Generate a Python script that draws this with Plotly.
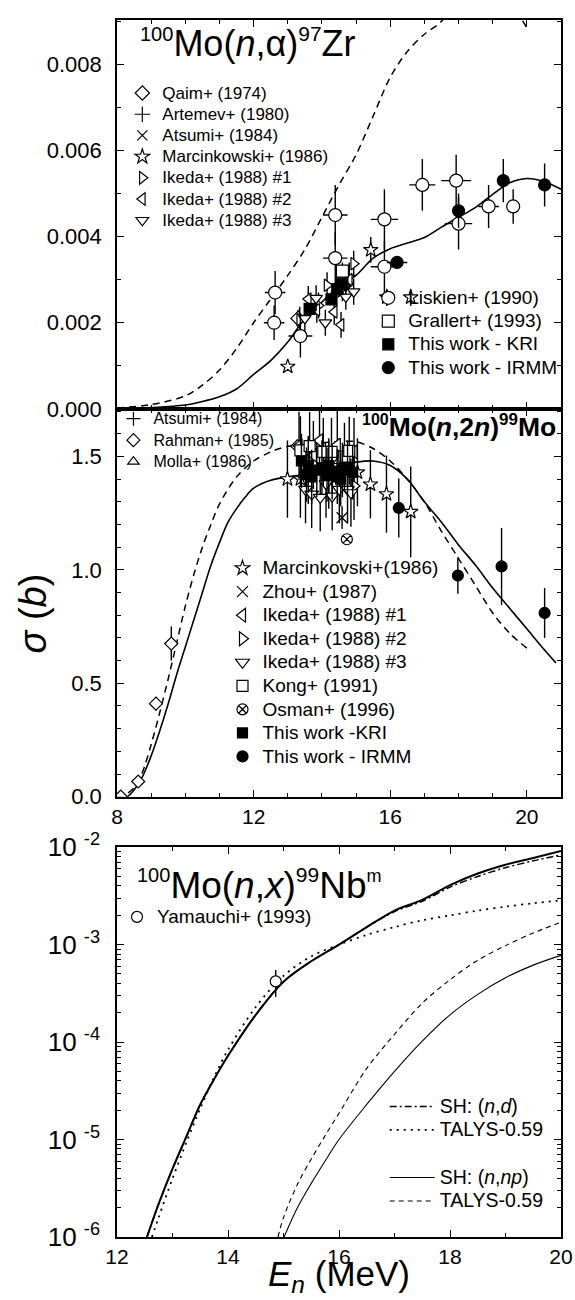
import plotly.graph_objects as go

FONT = "Liberation Sans, Arial, sans-serif"

# ---------------- Panel 1: 100Mo(n,alpha)97Zr ----------------
na_E_solid = [8.0, 9.0, 10.0, 10.5, 11.0, 11.5, 12.0, 12.5, 13.0, 13.5, 14.0, 14.5, 15.0, 15.5, 16.0,
              16.5, 17.0, 17.5, 18.0, 18.5, 19.0, 19.5, 20.0, 20.5, 21.0]
na_solid = [0.0, 0.00003, 0.00009, 0.00017, 0.00028, 0.00046, 0.0008, 0.00112, 0.00155, 0.0021, 0.00248,
            0.00285, 0.0031, 0.0035, 0.00372, 0.00385, 0.00398, 0.00422, 0.00445, 0.00468, 0.00498,
            0.00525, 0.00535, 0.00528, 0.0051]
na_E_dash = [8.0, 9.0, 10.0, 10.5, 11.0, 11.5, 12.0, 12.5, 13.0, 13.5, 14.0, 14.5, 15.0, 15.5, 16.0,
             16.5, 17.0, 17.5, 18.0, 19.0, 19.5, 19.8, 20.0]
na_dash = [0.00002, 0.0001, 0.0003, 0.00055, 0.0009, 0.0014, 0.002, 0.00255, 0.0031, 0.0037, 0.00445,
           0.0052, 0.0059, 0.0068, 0.0077, 0.0083, 0.0087, 0.0090, 0.0096, 0.0096, 0.0094, 0.0091, 0.00885]

qaim_E, qaim_s, qaim_e = [13.3, 14.7], [0.0021, 0.0029], [0.0002, 0.0002]
artemev_E, artemev_s, artemev_e = [14.8], [0.0031], [0.0003]
atsumi_E, atsumi_s, atsumi_e = [14.6], [0.0027], [0.0002]
marc_E, marc_s, marc_e = [13.0, 15.43, 15.9, 16.6], [0.00098, 0.00369, 0.00259, 0.00259], [0.0001, 0.0003, 0.0002, 0.0002]
ik1_E, ik1_s, ik1_e = [13.35, 14.15, 14.93, 13.9, 14.5], [0.00207, 0.00287, 0.00337, 0.0024, 0.0029], [0.0003] * 5
ik2_E, ik2_s, ik2_e = [13.6, 14.36, 14.56, 13.85, 14.8], [0.00255, 0.00225, 0.00195, 0.0023, 0.0030], [0.0003] * 5
ik3_E, ik3_s, ik3_e = [14.1, 14.93, 13.83, 14.7, 13.5], [0.0020, 0.00272, 0.00257, 0.0026, 0.0021], [0.0003] * 5
lisk_E = [12.6, 12.63, 13.37, 14.39, 14.39, 15.83, 15.83, 16.94, 17.93, 18.0, 18.88, 19.6]
lisk_s = [0.0020, 0.0027, 0.00169, 0.0035, 0.0045, 0.0033, 0.0044, 0.0052, 0.0053, 0.0043, 0.0047, 0.0047]
lisk_e = [0.0004, 0.0005, 0.0005, 0.0006, 0.0007, 0.0006, 0.0007, 0.0006, 0.0006, 0.0006, 0.0005, 0.0004]
lisk_xe = [0.3, 0.3, 0.35, 0.36, 0.36, 0.4, 0.4, 0.38, 0.44, 0.4, 0.3, 0.2]
grall_E, grall_s, grall_e = [14.6], [0.0032], [0.0002]
kri1_E, kri1_s, kri1_e = [13.64, 14.28, 14.45, 14.6], [0.00232, 0.00254, 0.00278, 0.0029], [0.0001] * 4
irmm1_E, irmm1_s, irmm1_e = [16.2, 18.0, 19.31, 20.52], [0.0034, 0.0046, 0.0053, 0.0052], [0.0001, 0.0004, 0.0005, 0.0005]
irmm1_xe = [0.3, 0.0, 0.0, 0.0]

# ---------------- Panel 2: 100Mo(n,2n)99Mo ----------------
n2_E_solid = [8.0, 8.3, 8.5, 8.75, 9.0, 9.25, 9.5, 9.75, 10.0, 10.25, 10.5, 10.75, 11.0, 11.25, 11.5, 11.75,
              12.0, 12.5, 13.0, 13.5, 14.0, 14.5, 15.0, 15.5, 16.0, 16.5, 17.0, 17.5, 18.0, 18.5, 19.0,
              19.5, 20.0, 20.5, 20.85]
n2_solid = [0.0, 0.0, 0.03, 0.09, 0.18, 0.29, 0.41, 0.54, 0.66, 0.78, 0.9, 1.02, 1.12, 1.21, 1.27, 1.32,
            1.36, 1.395, 1.41, 1.42, 1.44, 1.46, 1.475, 1.48, 1.46, 1.40, 1.30, 1.21, 1.11, 1.02, 0.92,
            0.83, 0.74, 0.65, 0.59]
n2_E_dash = [8.0, 8.25, 8.5, 8.75, 9.0, 9.25, 9.5, 9.75, 10.0, 10.25, 10.5, 10.75, 11.0, 11.5, 12.0, 12.5,
             13.0, 14.0, 14.5, 15.0, 15.5, 16.0, 16.5, 17.0, 17.5, 18.0, 18.5, 19.0, 19.5, 20.0]
n2_dash = [0.0, 0.01, 0.04, 0.11, 0.23, 0.37, 0.52, 0.68, 0.84, 0.98, 1.1, 1.2, 1.29, 1.41, 1.48, 1.52,
           1.545, 1.56, 1.565, 1.565, 1.535, 1.48, 1.40, 1.30, 1.17, 1.05, 0.93, 0.81, 0.72, 0.655]

at2_E, at2_s, at2_e = [14.1], [1.46], [0.1]
rah_E, rah_s, rah_e = [8.11, 8.62, 9.14, 9.59, 13.28], [0.0, 0.067, 0.41, 0.675, 1.545], [0.01, 0.01, 0.03, 0.075, 0.03]
rah_xe = [0.0, 0.0, 0.0, 0.2, 0.0]
molla_E, molla_s, molla_e = [14.5], [1.48], [0.1]
marc2_E = [12.99, 13.37, 15.04, 15.42, 15.89, 16.6]
marc2_s = [1.40, 1.40, 1.43, 1.377, 1.334, 1.256]
marc2_e = [0.17, 0.17, 0.15, 0.15, 0.17, 0.2]
zhou_E, zhou_s, zhou_e = [14.59], [1.23], [0.05]
ik1b_E, ik1b_s = [13.33, 13.93, 14.45, 13.75, 14.94], [1.547, 1.57, 1.55, 1.506, 1.52]
ik2b_E, ik2b_s = [14.94, 14.2, 13.6], [1.37, 1.42, 1.44]
ik3b_E = [13.52, 13.7, 13.95, 14.12, 14.3, 14.51, 14.75, 14.85]
ik3b_s = [1.355, 1.334, 1.32, 1.38, 1.325, 1.355, 1.355, 1.34]
kong_E = [13.37, 13.64, 14.04, 14.28, 14.66, 14.8]
kong_s = [1.527, 1.546, 1.52, 1.52, 1.499, 1.525]
osman_E, osman_s, osman_e = [14.73], [1.135], [0.02]
kri2_E = [13.4, 13.55, 13.7, 13.85, 14.0, 14.15, 14.3, 14.45, 14.6, 14.75, 14.9, 13.6, 14.2, 14.55]
kri2_s = [1.48, 1.42, 1.41, 1.44, 1.45, 1.42, 1.43, 1.41, 1.44, 1.45, 1.43, 1.46, 1.46, 1.40]
irmm2_E, irmm2_s, irmm2_e = [16.25, 17.98, 19.26, 20.52], [1.273, 0.975, 1.015, 0.81], [0.13, 0.08, 0.17, 0.11]

# ---------------- Panel 3: 100Mo(n,x)99Nbm ----------------
nd_E = [12.54, 12.75, 13.0, 13.25, 13.5, 13.75, 14.0, 14.5, 15.0, 15.5, 16.0, 16.5, 17.0, 17.5, 18.0,
        18.5, 19.0, 19.5, 20.0]
tot_log = [-6.0, -5.66, -5.3, -4.97, -4.64, -4.38, -4.14, -3.72, -3.38, -3.17, -3.0, -2.82, -2.65, -2.54,
           -2.39, -2.27, -2.18, -2.11, -2.04]
shnd_log = [-6.0, -5.66, -5.3, -4.97, -4.64, -4.38, -4.14, -3.72, -3.38, -3.17, -3.0, -2.82, -2.66, -2.555,
            -2.41, -2.30, -2.21, -2.14, -2.08]
tnd_E = [12.63, 12.75, 13.0, 13.25, 13.5, 13.75, 14.0, 14.5, 15.0, 15.5, 16.0, 16.5, 17.0, 17.5, 18.0,
         18.5, 19.0, 19.5, 20.0]
tnd_log = [-6.0, -5.8, -5.4, -5.03, -4.68, -4.36, -4.08, -3.64, -3.32, -3.12, -3.0, -2.9, -2.82, -2.75,
           -2.70, -2.65, -2.61, -2.575, -2.545]
shnp_E = [15.01, 15.25, 15.5, 15.75, 16.0, 16.5, 17.0, 17.5, 18.0, 18.5, 19.0, 19.5, 20.0]
shnp_log = [-6.0, -5.7, -5.45, -5.22, -5.0, -4.64, -4.3, -3.99, -3.72, -3.51, -3.34, -3.21, -3.11]
tnp_E = [14.9, 15.0, 15.25, 15.5, 15.75, 16.0, 16.5, 17.0, 17.5, 18.0, 18.5, 19.0, 19.5, 20.0]
tnp_log = [-6.0, -5.8, -5.46, -5.2, -4.96, -4.73, -4.27, -3.92, -3.6, -3.36, -3.16, -3.01, -2.88, -2.77]
yam_E, yam_s, yam_e = [14.86], [4.2e-4], [1.3e-4]

# tick labels
y1_ticks = [0.0, 0.002, 0.004, 0.006, 0.008]
y2_ticks = [0.0, 0.5, 1.0, 1.5]
y3_tickvals = [1e-6, 1e-5, 1e-4, 1e-3, 1e-2]
y3_ticktext = ["10 <sup>-6</sup>", "10 <sup>-5</sup>", "10 <sup>-4</sup>", "10 <sup>-3</sup>", "10 <sup>-2</sup>"]

fig = go.Figure()
BLK = "black"


def lab(text, size):
    return '<span style="font-size:%spx">%s</span>' % (size, text)


def sup(text, size):
    return '<sup><span style="font-size:%spx">%s</span></sup>' % (size, text)


def pts(E, s, e, sym, size, ax, name, legend, fill="white", xe=None, lw=1.2):
    err = dict(type="data", array=e, visible=True, color=BLK, thickness=1.4, width=0)
    kw = {}
    if xe is not None:
        kw["error_x"] = dict(type="data", array=xe, visible=True, color=BLK, thickness=1.4, width=0)
    fig.add_trace(go.Scatter(x=E, y=s, mode="markers", name=name, legend=legend,
                             xaxis="x" + ax, yaxis="y" + ax, error_y=err,
                             marker=dict(symbol=sym, size=size, color=fill,
                                         line=dict(color=BLK, width=lw)), **kw))


def line(E, s, ax, dash, width, name=None, legend=None, group=None):
    fig.add_trace(go.Scatter(x=E, y=s, mode="lines", xaxis="x" + ax, yaxis="y" + ax,
                             line=dict(color=BLK, width=width, dash=dash, shape="spline", smoothing=0.9),
                             name=name, showlegend=name is not None,
                             legend=legend, legendgroup=group))


L1, L2, L3, L4, L5, L6 = 17, 19, 16, 19, 19, 19.5

# panel 1 (axis suffix "")
line(na_E_solid, na_solid, "", "solid", 1.6)
line(na_E_dash, na_dash, "", "7px,5px", 1.5)
pts(qaim_E, qaim_s, qaim_e, "diamond", 11, "", lab("Qaim+ (1974)", L1), "legend")
pts(artemev_E, artemev_s, artemev_e, "cross-thin", 11, "", lab("Artemev+ (1980)", L1), "legend", fill=BLK)
pts(atsumi_E, atsumi_s, atsumi_e, "x-thin", 10, "", lab("Atsumi+ (1984)", L1), "legend", fill=BLK)
pts(marc_E, marc_s, marc_e, "star", 11, "", lab("Marcinkowski+ (1986)", L1), "legend")
pts(ik1_E, ik1_s, ik1_e, "triangle-right", 11, "", lab("Ikeda+ (1988) #1", L1), "legend")
pts(ik2_E, ik2_s, ik2_e, "triangle-left", 11, "", lab("Ikeda+ (1988) #2", L1), "legend")
pts(ik3_E, ik3_s, ik3_e, "triangle-down", 11, "", lab("Ikeda+ (1988) #3", L1), "legend")
pts(lisk_E, lisk_s, lisk_e, "circle", 13, "", lab("Liskien+ (1990)", L2), "legend2", xe=lisk_xe)
pts(grall_E, grall_s, grall_e, "square", 12, "", lab("Grallert+ (1993)", L2), "legend2")
pts(kri1_E, kri1_s, kri1_e, "square", 11, "", lab("This work - KRI", L2), "legend2", fill=BLK)
pts(irmm1_E, irmm1_s, irmm1_e, "circle", 12, "", lab("This work - IRMM", L2), "legend2", fill=BLK, xe=irmm1_xe)

# panel 2
line(n2_E_solid, n2_solid, "2", "solid", 1.6)
line(n2_E_dash, n2_dash, "2", "7px,5px", 1.5)
pts(at2_E, at2_s, at2_e, "cross-thin", 10, "2", lab("Atsumi+ (1984)", L3), "legend3", fill=BLK)
pts(rah_E, rah_s, rah_e, "diamond", 10, "2", lab("Rahman+ (1985)", L3), "legend3", xe=rah_xe)
pts(molla_E, molla_s, molla_e, "triangle-up", 10, "2", lab("Molla+ (1986)", L3), "legend3")
pts(marc2_E, marc2_s, marc2_e, "star", 11, "2", lab("Marcinkovski+(1986)", L4), "legend4")
pts(zhou_E, zhou_s, zhou_e, "x-thin", 11, "2", lab("Zhou+ (1987)", L4), "legend4", fill=BLK)
pts(ik1b_E, ik1b_s, [0.15] * len(ik1b_E), "triangle-left", 12, "2", lab("Ikeda+ (1988) #1", L4), "legend4")
pts(ik2b_E, ik2b_s, [0.15] * len(ik2b_E), "triangle-right", 12, "2", lab("Ikeda+ (1988) #2", L4), "legend4")
pts(ik3b_E, ik3b_s, [0.15] * len(ik3b_E), "triangle-down", 12, "2", lab("Ikeda+ (1988) #3", L4), "legend4")
pts(kong_E, kong_s, [0.15] * len(kong_E), "square", 11, "2", lab("Kong+ (1991)", L4), "legend4")
pts(osman_E, osman_s, osman_e, "circle-x", 11, "2", lab("Osman+ (1996)", L4), "legend4")
pts(kri2_E, kri2_s, [0.12] * len(kri2_E), "square", 10, "2", lab("This work -KRI", L4), "legend4", fill=BLK)
pts(irmm2_E, irmm2_s, irmm2_e, "circle", 11, "2", lab("This work - IRMM", L4), "legend4", fill=BLK)

# panel 3
line(nd_E, [10 ** v for v in tot_log], "3", "solid", 2.0)
line(nd_E, [10 ** v for v in shnd_log], "3", "7px,3px,2px,3px", 1.5, lab("SH: (<i>n</i>,<i>d</i>)", L6), "legend6", "a")
line(tnd_E, [10 ** v for v in tnd_log], "3", "2px,5px", 1.8, lab("TALYS-0.59", L6), "legend6", "a")
line(shnp_E, [10 ** v for v in shnp_log], "3", "solid", 1.1, lab("SH: (<i>n</i>,<i>np</i>)", L6), "legend6", "b")
line(tnp_E, [10 ** v for v in tnp_log], "3", "5px,4px", 1.1, lab("TALYS-0.59", L6), "legend6", "b")
pts(yam_E, yam_s, yam_e, "circle", 11, "3", lab("Yamauchi+ (1993)", L5), "legend5")


def axstyle(**kw):
    d = dict(showline=True, linecolor=BLK, linewidth=1.6, mirror="allticks", ticks="inside",
             ticklen=7, tickwidth=1.3, tickcolor=BLK, showgrid=False, zeroline=False,
             ticklabeloverflow="allow",
             tickfont=dict(family=FONT, size=22, color=BLK))
    d.update(kw)
    return d


MINX = dict(ticks="inside", ticklen=4, tickwidth=1.1, tickcolor=BLK, dtick=1)
d1 = [0.6805, 1.0]
d2 = [0.3618, 0.6805]
d3 = [0.0, 0.3203]

minor_log = [k * 10 ** p for p in range(-6, -2) for k in range(2, 10)]


def lg(x, y, size, **kw):
    d = dict(x=x, y=y, xanchor="left", yanchor="top", bgcolor="rgba(0,0,0,0)",
             font=dict(family=FONT, size=size, color=BLK))
    d.update(kw)
    return d


fig.update_layout(
    width=575, height=1300,
    margin=dict(l=117, r=2, t=7, b=63),
    paper_bgcolor="white", plot_bgcolor="white",
    font=dict(family=FONT, color=BLK),
    xaxis=axstyle(domain=[0, 1], anchor="y", range=[8, 21], dtick=4, tick0=8, showticklabels=False,
                  minor=MINX),
    yaxis=axstyle(domain=d1, anchor="x", range=[0, 0.00903], tickvals=y1_ticks, tickformat=".3f",
                  ticklabelstandoff=9,
                  minor=dict(ticks="inside", ticklen=4, tickwidth=1.1, tickcolor=BLK, dtick=0.001)),
    xaxis2=axstyle(domain=[0, 1], anchor="y2", range=[8, 21], dtick=4, tick0=8, minor=MINX,
                   tickfont=dict(family=FONT, size=21, color=BLK)),
    yaxis2=axstyle(domain=d2, anchor="x2", range=[0, 1.71], tickvals=y2_ticks, tickformat=".1f",
                   ticklabelstandoff=9,
                   minor=dict(ticks="inside", ticklen=4, tickwidth=1.1, tickcolor=BLK, dtick=0.1)),
    xaxis3=axstyle(domain=[0, 1], anchor="y3", range=[12, 20], dtick=2, tick0=12, minor=MINX,
                   tickfont=dict(family=FONT, size=21, color=BLK)),
    yaxis3=axstyle(domain=d3, anchor="x3", type="log", range=[-6, -2], tickvals=y3_tickvals,
                   ticktext=y3_ticktext, tickfont=dict(family=FONT, size=26, color=BLK),
                   ticklabelstandoff=10,
                   minor=dict(ticks="inside", ticklen=4, tickwidth=1.1, tickcolor=BLK,
                              tickvals=minor_log)),
    legend=lg(0.012, 0.9528, 14),
    legend2=lg(0.566, 0.7854, 15.6),
    legend3=lg(-0.008, 0.6853, 14.2),
    legend4=lg(0.2376, 0.5634, 15.8),
    legend5=lg(0.0, 0.2764, 15),
    legend6=lg(0.603, 0.1211, 15.8, tracegroupgap=24, itemwidth=45),
    annotations=[
        dict(text=sup("100", 20) + "Mo(<i>n</i>,α)" + sup("97", 21) + "Zr", xref="paper", yref="paper",
             x=0.047, y=0.981, xanchor="left", yanchor="middle", showarrow=False,
             font=dict(family=FONT, size=36, color=BLK)),
        dict(text="<b>" + sup("100", 16) + "Mo(<i>n</i>,2<i>n</i>)" + sup("99", 17) + "Mo</b>",
             xref="paper", yref="paper",
             x=0.548, y=0.666, xanchor="left", yanchor="middle", showarrow=False,
             font=dict(family=FONT, size=26.5, color=BLK)),
        dict(text=sup("100", 20) + "Mo(<i>n</i>,<i>x</i>)" + sup("99", 21) + "Nb" + sup("m", 18),
             xref="paper", yref="paper",
             x=0.04, y=0.29, xanchor="left", yanchor="middle", showarrow=False,
             font=dict(family=FONT, size=37, color=BLK)),
        dict(text="<i>σ</i> (<i>b</i>)", xref="paper", yref="paper", x=-0.19, y=0.512,
             xanchor="center", yanchor="middle", textangle=-90, showarrow=False,
             font=dict(family=FONT, size=38, color=BLK)),
        dict(text="<i>E</i><sub><i>n</i></sub> (MeV)", xref="paper", yref="paper", x=0.5, y=-0.032,
             xanchor="center", yanchor="middle", showarrow=False,
             font=dict(family=FONT, size=35, color=BLK)),
    ],
)

fig.write_html("out.html")
